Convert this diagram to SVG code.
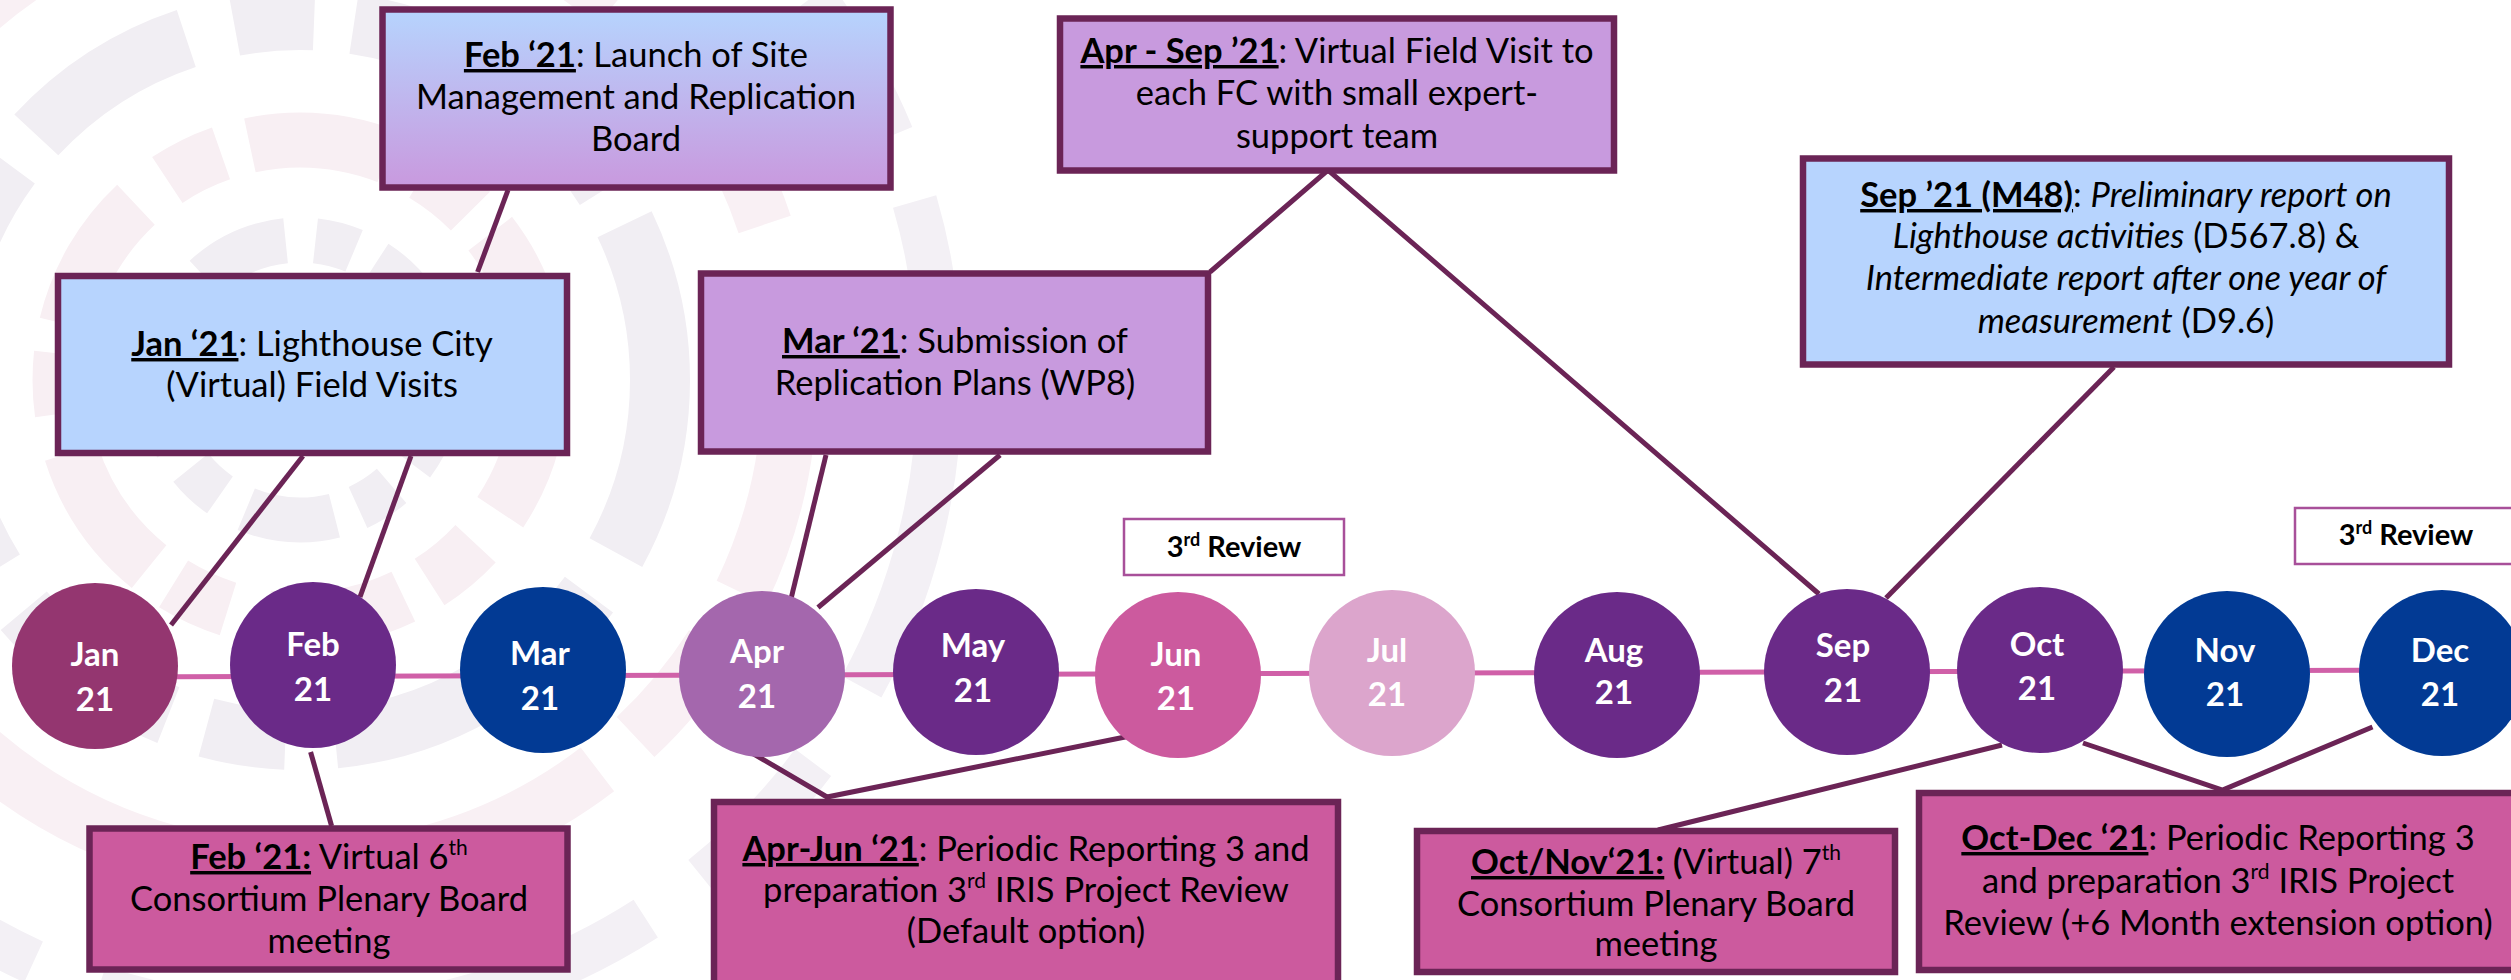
<svg xmlns="http://www.w3.org/2000/svg" width="2511" height="980" viewBox="0 0 2511 980">
<defs>
<linearGradient id="gFeb" x1="0" y1="0" x2="0" y2="1">
<stop offset="0" stop-color="#b6d4fe"/>
<stop offset="1" stop-color="#c999de"/>
</linearGradient>
<style>
.box{stroke:#6b2456;stroke-width:6.5}
.blue{fill:#b7d4fe}
.lav{fill:#c89ade}
.pink{fill:#cc5a9e}
.t{font-family:Lato,'Liberation Sans',sans-serif;font-size:34.5px;fill:#000;text-anchor:middle}
.b{font-weight:bold}
.u{text-decoration:underline}
.i{font-style:italic}
.conn{stroke:#6b2456;stroke-width:5;fill:none}
.cl{font-family:Lato,'Liberation Sans',sans-serif;font-weight:bold;font-size:33px;fill:#fff;text-anchor:middle}
.rev{fill:#fff;stroke:#a8509a;stroke-width:2.5}
.rt{font-family:Lato,'Liberation Sans',sans-serif;font-weight:bold;font-size:29px;fill:#000;text-anchor:middle}
</style>
</defs>
<rect width="2511" height="980" fill="#fff"/>
<g id="watermark" fill="none">
<circle cx="300" cy="380" r="140" stroke="#f1eef3" stroke-width="45" stroke-dasharray="90 30 40 25"/>
<circle cx="300" cy="380" r="240" stroke="#f8eff3" stroke-width="55" stroke-dasharray="140 40 60 30"/>
<circle cx="300" cy="380" r="360" stroke="#f1eef3" stroke-width="60" stroke-dasharray="180 50 80 40"/>
<circle cx="300" cy="380" r="490" stroke="#f9f0f4" stroke-width="55" stroke-dasharray="220 60 120 50"/>
<circle cx="300" cy="380" r="640" stroke="#f3f0f5" stroke-width="45" stroke-dasharray="320 90 160 70"/>
</g>
<g id="timeline">
<line x1="95" y1="677" x2="2442" y2="670" stroke="#d060a8" stroke-width="5"/>
</g>
<g id="connectors">
<polyline class="conn" points="508,190 477.6,272"/>
<polyline class="conn" points="303,456 171,625"/>
<polyline class="conn" points="411,456 360,597"/>
<polyline class="conn" points="310.6,752 331.6,826"/>
<polyline class="conn" points="826,455 789.5,605"/>
<polyline class="conn" points="1000,455 818,607.5"/>
<polyline class="conn" points="1210,272 1328,170 1819,594"/>
<polyline class="conn" points="2114,367 1886,598"/>
<polyline class="conn" points="747,750 827,797 1135,735"/>
<polyline class="conn" points="2002,745 1658,830"/>
<polyline class="conn" points="2083,743 2222.5,790 2372.5,727"/>
</g>
<g id="m-jan"><circle cx="95" cy="666" r="83" fill="#943670"/><text class="cl" x="95" y="666">Jan</text><text class="cl" x="95" y="711">21</text></g>
<g id="m-feb"><circle cx="313" cy="665" r="83" fill="#6a2a88"/><text class="cl" x="313" y="656">Feb</text><text class="cl" x="313" y="701">21</text></g>
<g id="m-mar"><circle cx="543" cy="670" r="83" fill="#023a94"/><text class="cl" x="540" y="665">Mar</text><text class="cl" x="540" y="710">21</text></g>
<g id="m-apr"><circle cx="762" cy="674" r="83" fill="#a467ad"/><text class="cl" x="757" y="663">Apr</text><text class="cl" x="757" y="708">21</text></g>
<g id="m-may"><circle cx="976" cy="672" r="83" fill="#6a2a88"/><text class="cl" x="973" y="657">May</text><text class="cl" x="973" y="702">21</text></g>
<g id="m-jun"><circle cx="1178" cy="675" r="83" fill="#cc5a9e"/><text class="cl" x="1176" y="666">Jun</text><text class="cl" x="1176" y="710">21</text></g>
<g id="m-jul"><circle cx="1392" cy="673" r="83" fill="#dca5cc"/><text class="cl" x="1387" y="662">Jul</text><text class="cl" x="1387" y="706">21</text></g>
<g id="m-aug"><circle cx="1617" cy="675" r="83" fill="#6a2a88"/><text class="cl" x="1614" y="662">Aug</text><text class="cl" x="1614" y="704">21</text></g>
<g id="m-sep"><circle cx="1847" cy="672" r="83" fill="#6a2a88"/><text class="cl" x="1843" y="657">Sep</text><text class="cl" x="1843" y="702">21</text></g>
<g id="m-oct"><circle cx="2040" cy="670" r="83" fill="#6a2a88"/><text class="cl" x="2037" y="656">Oct</text><text class="cl" x="2037" y="700">21</text></g>
<g id="m-nov"><circle cx="2227" cy="674" r="83" fill="#023a94"/><text class="cl" x="2225" y="662">Nov</text><text class="cl" x="2225" y="706">21</text></g>
<g id="m-dec"><circle cx="2442" cy="673" r="83" fill="#023a94"/><text class="cl" x="2440" y="662">Dec</text><text class="cl" x="2440" y="706">21</text></g>
<g id="box-feb-launch">
<rect class="box" x="382.5" y="9.5" width="508" height="178" fill="url(#gFeb)"/>
<text class="t" x="636" y="67"><tspan class="b u">Feb ‘21</tspan>: Launch of Site</text>
<text class="t" x="636" y="109">Management and Replication</text>
<text class="t" x="636" y="151">Board</text>
</g>
<g id="box-jan">
<rect class="box blue" x="58" y="276" width="509" height="177"/>
<text class="t" x="312" y="356"><tspan class="b u">Jan ‘21</tspan>: Lighthouse City</text>
<text class="t" x="312" y="397">(Virtual) Field Visits</text>
</g>
<g id="box-mar">
<rect class="box lav" x="701" y="273.5" width="507" height="178"/>
<text class="t" x="955" y="353"><tspan class="b u">Mar ‘21</tspan>: Submission of</text>
<text class="t" x="955" y="395">Replication Plans (WP8)</text>
</g>
<g id="box-aprsep">
<rect class="box lav" x="1060" y="18.5" width="554" height="152"/>
<text class="t" x="1337" y="63"><tspan class="b u">Apr - Sep ’21</tspan>: Virtual Field Visit to</text>
<text class="t" x="1337" y="105">each FC with small expert-</text>
<text class="t" x="1337" y="148">support team</text>
</g>
<g id="box-sep">
<rect class="box blue" x="1803" y="158.5" width="646" height="206"/>
<text class="t" x="2126" y="207"><tspan class="b u">Sep ’21 (M48)</tspan>: <tspan class="i">Preliminary report on</tspan></text>
<text class="t" x="2126" y="248"><tspan class="i">Lighthouse activities</tspan> (D567.8) &amp;</text>
<text class="t" x="2126" y="290"><tspan class="i">Intermediate report after one year of</tspan></text>
<text class="t" x="2126" y="333"><tspan class="i">measurement</tspan> (D9.6)</text>
</g>
<g id="box-feb-plenary">
<rect class="box pink" x="89.5" y="828.5" width="478" height="141"/>
<text class="t" x="329" y="869"><tspan class="b u">Feb ‘21:</tspan> Virtual 6<tspan dy="-14" font-size="21">th</tspan></text>
<text class="t" x="329" y="911">Consortium Plenary Board</text>
<text class="t" x="329" y="953">meeting</text>
</g>
<g id="box-aprjun">
<rect class="box pink" x="714" y="802" width="624" height="190"/>
<text class="t" x="1026" y="861"><tspan class="b u">Apr-Jun ‘21</tspan>: Periodic Reporting 3 and</text>
<text class="t" x="1026" y="902">preparation 3<tspan dy="-14" font-size="21">rd</tspan><tspan dy="14"> IRIS Project Review</tspan></text>
<text class="t" x="1026" y="943">(Default option)</text>
</g>
<g id="box-octnov">
<rect class="box pink" x="1417" y="831" width="478" height="141"/>
<text class="t" x="1656" y="874"><tspan class="b u">Oct/Nov‘21:</tspan> <tspan class="b">(</tspan>Virtual) 7<tspan dy="-14" font-size="21">th</tspan></text>
<text class="t" x="1656" y="916">Consortium Plenary Board</text>
<text class="t" x="1656" y="956">meeting</text>
</g>
<g id="box-octdec">
<rect class="box pink" x="1919" y="793" width="600" height="177"/>
<text class="t" x="2218" y="850"><tspan class="b u">Oct-Dec ‘21</tspan>: Periodic Reporting 3</text>
<text class="t" x="2218" y="893">and preparation 3<tspan dy="-14" font-size="21">rd</tspan><tspan dy="14"> IRIS Project</tspan></text>
<text class="t" x="2218" y="935">Review (+6 Month extension option)</text>
</g>
<g id="review-1">
<rect class="rev" x="1124" y="519" width="220" height="56"/>
<text class="rt" x="1234" y="557">3<tspan dy="-11" font-size="18">rd</tspan><tspan dy="11"> Review</tspan></text>
</g>
<g id="review-2">
<rect class="rev" x="2295" y="508" width="230" height="56"/>
<text class="rt" x="2406" y="545">3<tspan dy="-11" font-size="18">rd</tspan><tspan dy="11"> Review</tspan></text>
</g>
</svg>
